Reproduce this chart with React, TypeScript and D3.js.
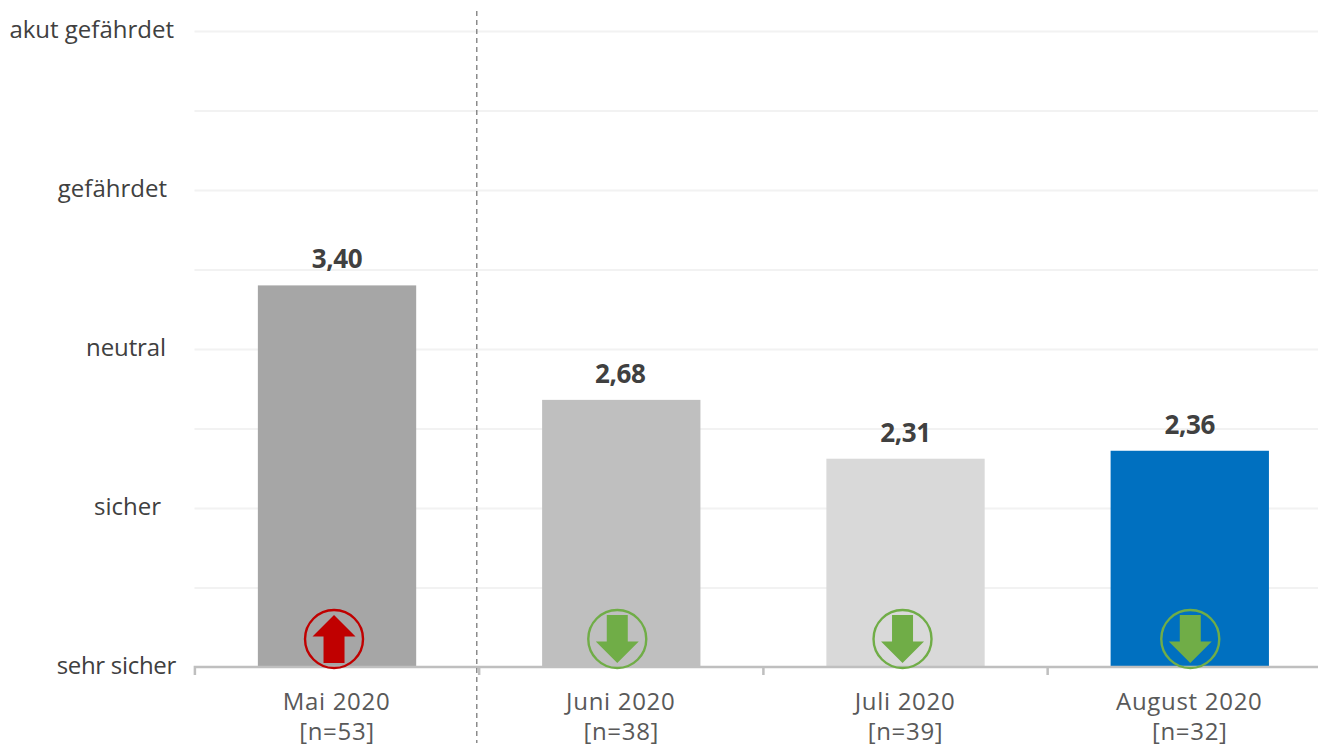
import React from "react";
import * as d3 from "d3";

const months = ["Mai 2020", "Juni 2020", "Juli 2020", "August 2020"];
const samples = ["[n=53]", "[n=38]", "[n=39]", "[n=32]"];
const values = [3.4, 2.68, 2.31, 2.36];
const valueLabels = ["3,40", "2,68", "2,31", "2,36"];
const trends = ["up", "down", "down", "down"];
const barColors = ["#A6A6A6", "#BFBFBF", "#D9D9D9", "#0070C0"];
const levelNames = ["sehr sicher", "sicher", "neutral", "gefährdet", "akut gefährdet"];
const levels = [1, 2, 3, 4, 5];
const gridLevels = [1.5, 2, 2.5, 3, 3.5, 4, 4.5, 5];

const W = 1318, H = 746;
const FONT = "'Open Sans', 'Noto Sans', sans-serif";
const x = d3.scaleBand<string>().domain(months).range([194.9, 1331.9]).paddingInner(0.443).paddingOuter(0.2215);
const y = d3.scaleLinear().domain([1, 5]).range([667, 31]);
const levelRightEdge = [176, 161, 166, 167, 174];
const levelSpacing = [-0.3, 0, -0.1, 0, 0];
const iconOffset = [-3, -4, -3, 0.5];
const labelOffset = [0, -1, 0, 0];

function Trend({ cx, cy, dir }: { cx: number; cy: number; dir: string }) {
  const color = dir === "up" ? "#C00000" : "#70AD47";
  const s = dir === "up" ? 1 : -1;
  const p = d3.path();
  const tip = cy - 24 * s;
  p.moveTo(cx, tip);
  p.lineTo(cx + 21.5, tip + 21.5 * s);
  p.lineTo(cx + 10.5, tip + 21.5 * s);
  p.lineTo(cx + 10.5, tip + 48 * s);
  p.lineTo(cx - 10.5, tip + 48 * s);
  p.lineTo(cx - 10.5, tip + 21.5 * s);
  p.lineTo(cx - 21.5, tip + 21.5 * s);
  p.closePath();
  return (
    <g>
      <circle cx={cx} cy={cy} r={29} fill="none" stroke={color} strokeWidth={2.4} />
      <path d={p.toString()} fill={color} />
    </g>
  );
}

export default function App() {
  const bw = x.bandwidth();
  const step = x.step();
  const axisTicks = months.map((m) => (x(m) as number) - (step - bw) / 2);
  return (
    <svg width={W} height={H} viewBox={`0 0 ${W} ${H}`} style={{ position: "absolute", left: 0, top: 0, background: "#fff" }} fontFamily={FONT}>
      {gridLevels.map((l) => (
        <line key={l} x1={194.5} x2={W} y1={y(l) + 0.5} y2={y(l) + 0.5} stroke="#F2F2F2" strokeWidth={2} />
      ))}
      {months.map((m, i) => (
        <rect key={m} x={x(m)} y={y(values[i])} width={bw} height={y(1) - y(values[i])} fill={barColors[i]} />
      ))}
      <path
        d={`M${W},${y(1)}H${axisTicks[0]}V675` + axisTicks.slice(1).map((t) => `M${t},${y(1)}V675`).join("")}
        fill="none"
        stroke="#BFBFBF"
        strokeWidth={2.5}
      />
      <line x1={476.8} x2={476.8} y1={11} y2={743} stroke="#6F6F6F" strokeWidth={1.2} strokeDasharray="5 4" />
      {months.map((m, i) => (
        <Trend key={m} cx={(x(m) as number) + bw / 2 + iconOffset[i]} cy={639} dir={trends[i]} />
      ))}
      {months.map((m, i) => (
        <text key={m} x={(x(m) as number) + bw / 2 + labelOffset[i]} y={y(values[i]) - 17} textAnchor="middle" fontSize={26} fontWeight={700} fill="#404040" letterSpacing={-0.4}>
          {valueLabels[i]}
        </text>
      ))}
      {levels.map((l, i) => (
        <text key={l} x={levelRightEdge[i]} y={y(l) + 6.5} textAnchor="end" fontSize={24} fill="#404040" letterSpacing={levelSpacing[i]}>
          {levelNames[i]}
        </text>
      ))}
      {months.map((m, i) => (
        <g key={m} textAnchor="middle" fontSize={24} fill="#595959" letterSpacing={0.7}>
          <text x={(x(m) as number) + bw / 2 - 0.5} y={710}>{m}</text>
          <text x={(x(m) as number) + bw / 2} y={740}>{samples[i]}</text>
        </g>
      ))}
    </svg>
  );
}
